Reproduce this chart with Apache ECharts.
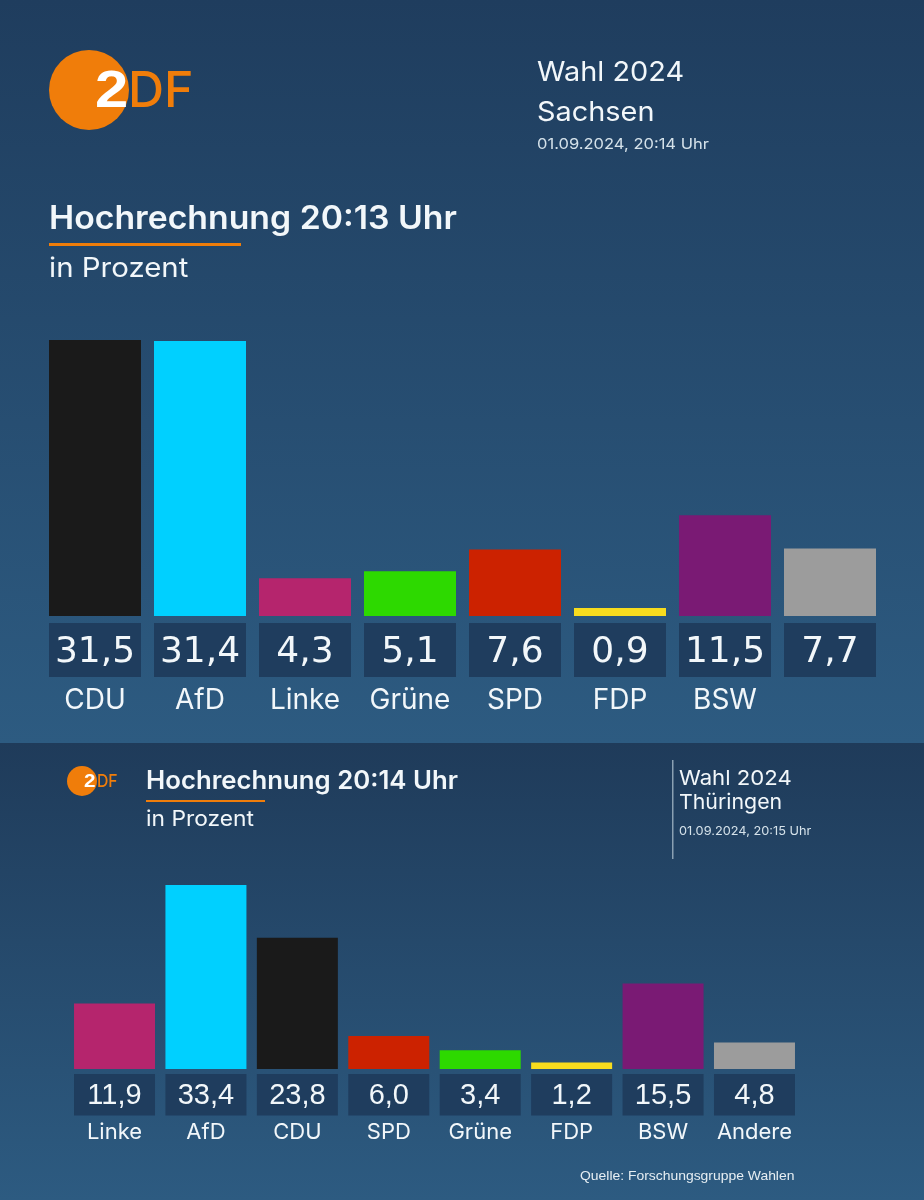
<!DOCTYPE html>
<html><head><meta charset="utf-8">
<style>html,body{margin:0;padding:0;background:#1f3d5e}#c{width:924px;height:1200px}</style>
<script src="https://cdn.jsdelivr.net/npm/echarts@6/dist/echarts.min.js"></script>
</head><body><div id="c"></div>
<script>
const topParties = ['CDU','AfD','Linke','Grüne','SPD','FDP','BSW',' '];
const topValues = [31.5,31.4,4.3,5.1,7.6,0.9,11.5,7.7];
const topColors = ['#1a1a1a','#00d0ff','#b5256d','#2dd900','#cc2200','#f7dc1e','#7a1a74','#9c9c9c'];
const botParties = ['Linke','AfD','CDU','SPD','Grüne','FDP','BSW','Andere'];
const botValues = [11.9,33.4,23.8,6.0,3.4,1.2,15.5,4.8];
const botColors = ['#b5256d','#00d0ff','#1a1a1a','#cc2200','#2dd900','#f7dc1e','#7a1a74','#9c9c9c'];
const WHITE='#f2f7fa', ORANGE='#f07d0a', BOX='#1f3d5e', SANS='Inter';
const fmt=v=>v.toFixed(1).replace('.',',');
const grad=(a,b)=>({type:'linear',x:0,y:0,x2:0,y2:1,colorStops:[{offset:0,color:a},{offset:1,color:b}]});
function T(text,x,y,size,weight,fill,font,sx){return {type:'text',z:10,x:x,y:y,scaleX:sx||1,style:{text:text,fill:fill||WHITE,font:(weight||400)+' '+size+'px "'+(font||SANS)+'"',textVerticalAlign:'middle',verticalAlign:'middle'}}}
function R(x,y,w,h,fill,z){return {type:'rect',z:z===undefined?10:z,shape:{x,y,width:w,height:h},style:{fill}}}
function C(cx,cy,r){return {type:'circle',z:9,shape:{cx,cy,r},style:{fill:ORANGE}}}
const graphics=[
 Object.assign(R(0,0,924,743,grad('#1f3d5e','#2d5b81'),-10),{silent:true}),
 Object.assign(R(0,743,924,457,grad('#1f3b5a','#2d5b81'),-10),{silent:true}),
 C(89,90,40),
 T('DF',128,92,50,500,ORANGE,SANS,1.0),
 T('2',95,93,52,700,'#ffffff','Liberation Sans',1.15),
 T('Wahl 2024',537,73,27,400,WHITE,SANS,1.07),
 T('Sachsen',537,113,27,400,WHITE,SANS,1.07),
 T('01.09.2024, 20:14 Uhr',537,145,14.5,400,'#d5e2ea',SANS,1.14),
 T('Hochrechnung 20:13 Uhr',49,219,32,600,WHITE,SANS,1.055),
 R(49,243,192,3,ORANGE),
 T('in Prozent',49,269,27,400,WHITE,SANS,1.09),
 C(82,781,15),
 T('DF',97,781.5,17.5,500,ORANGE,SANS,0.9),
 T('2',84,782,18,700,'#ffffff','Liberation Sans',1.15),
 T('Hochrechnung 20:14 Uhr',146,781,25,600,WHITE,SANS,1.03),
 R(146,800,119,2,ORANGE),
 T('in Prozent',146,820,21.5,400,WHITE,SANS,1.06),
 R(672,760,1.5,99,'#8aa0b2'),
 T('Wahl 2024',679,779,20.5,400,WHITE,SANS,1.08),
 T('Thüringen',679,803,20.5,400,WHITE,SANS,1.04),
 T('01.09.2024, 20:15 Uhr',679,832,11.5,400,'#d5e2ea',SANS,1.11),
 T('Quelle: Forschungsgruppe Wahlen',580,1176,13,400,'#e6eef3','Liberation Sans',1.07)
];
function xAxis(i,names,vals,w,boxH,nameH,vSize,nSize,vFont,margin,pad){
 return {type:'category',gridIndex:i,data:names,axisLine:{show:false},axisTick:{show:false},
  axisLabel:{interval:0,margin:margin,hideOverlap:false,formatter:(n,idx)=>'{v|'+fmt(vals[idx])+'}\n{n|'+n+'}',
   rich:{v:{width:w,height:boxH-pad,lineHeight:boxH-pad,padding:[pad,0,0,0],align:'center',backgroundColor:BOX,color:WHITE,fontSize:vSize,fontFamily:vFont},
         n:{width:w,height:nameH,lineHeight:nameH,align:'center',color:WHITE,fontSize:nSize,fontFamily:'Inter'}}}};
}
function yAxis(i,max){return {type:'value',gridIndex:i,min:0,max:max,show:false,splitLine:{show:false}}}
function series(i,vals,cols,w){return {type:'bar',xAxisIndex:i,yAxisIndex:i,barWidth:w,silent:true,animation:false,
  data:vals.map((v,k)=>({value:v,itemStyle:{color:cols[k]}}))}}
const chart=echarts.init(document.getElementById('c'),null,{renderer:'canvas'});
chart.setOption({animation:false,
 grid:[{left:42.5,width:840,top:616-8.76*35,height:8.76*35},{left:68.8,width:731.4,top:1069-5.51*35,height:5.51*35}],
 xAxis:[xAxis(0,topParties,topValues,92,54,54,36,28,'DejaVu Sans',10,6),xAxis(1,botParties,botValues,81,41.5,36,29,22,'Liberation Sans',6,2)],
 yAxis:[yAxis(0,35),yAxis(1,35)],
 series:[series(0,topValues,topColors,92),series(1,botValues,botColors,81)],
 graphic:graphics});
</script></body></html>
